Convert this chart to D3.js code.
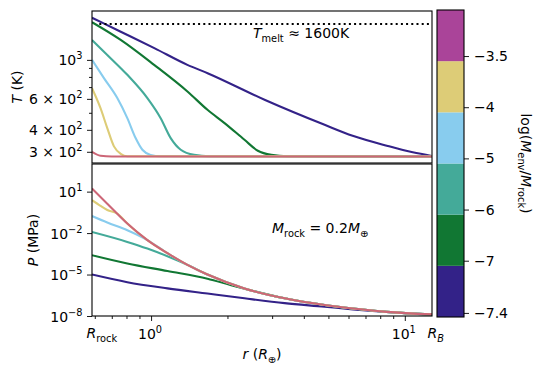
<!DOCTYPE html>
<html>
<head>
<meta charset="utf-8">
<script src="https://cdn.jsdelivr.net/npm/d3@7"></script>
<style>
  body { margin: 0; background: #fff; }
  text { font-family: "DejaVu Sans", sans-serif; }
</style>
</head>
<body>
<div id="chart"></div>
<script>
// radii in R_earth, temperature in K, pressure in MPa
const R_ROCK = 0.585
const R_B = 12.8
const T_MELT = 1600
const tempDomain = [259, 1897]
const presDomain = [1e-8, 1e3]

// colorbar: log(M_env/M_rock), bottom -> top
const envLabels = ['\u22127.4', '\u22127', '\u22126', '\u22125', '\u22124', '\u22123.5']
const envTickPos = [0.08, 1.1, 2.1, 3.1, 4.1, 5.1]
const barColors = ['#332288', '#117733', '#44AA99', '#88CCEE', '#DDCC77', '#AA4499']
const lineColors = ['#332288', '#117733', '#44AA99', '#88CCEE', '#DDCC77', '#CC6677']

// temperature profiles
const rT74 = [0.585, 0.756, 1.03, 1.39, 1.67, 2.8, 4.83, 6.23, 8.49, 10.75, 12.8]
const T74  = [1737, 1450, 1166, 937, 840, 593, 427, 370, 325, 298, 284]
const rT7  = [0.585, 0.759, 1.028, 1.391, 1.668, 1.948, 2.334, 2.635, 2.978, 3.45, 12.8]
const T7   = [1638, 1299, 937, 661, 520, 437, 351, 304, 288, 283, 282]
const rT6  = [0.585, 0.672, 0.806, 0.967, 1.091, 1.195, 1.309, 1.478, 1.70, 12.8]
const T6   = [1299, 1067, 822, 606, 466, 359, 308, 288, 283, 282]
const rT5  = [0.585, 0.652, 0.736, 0.806, 0.869, 0.924, 0.996, 1.09, 12.8]
const T5   = [1000, 787, 606, 466, 359, 308, 288, 283, 282]
const rT4  = [0.585, 0.632, 0.672, 0.714, 0.759, 0.806, 12.8]
const T4   = [690, 531, 409, 322, 292, 283, 282]
const rT35 = [0.585, 0.632, 0.70, 12.8]
const T35  = [300, 285, 282, 282]

// pressure profiles
const rP74 = [0.585, 0.806, 1.16, 1.668, 2.334, 3.36, 4.83, 6.25, 8.48, 12.8]
const P74  = [1e-5, 2.8e-6, 1e-6, 4.2e-7, 1.9e-7, 8.5e-8, 4.7e-8, 3.0e-8, 1.95e-8, 1.26e-8]
const rP7  = [0.585, 0.806, 1.16, 1.668, 2.069, 2.334, 3.36, 4.83, 6.25, 8.48, 12.8]
const P7   = [2.5e-4, 6.3e-5, 1.8e-5, 5e-6, 1.7e-6, 9.5e-7, 1.9e-7, 6.2e-8, 3.5e-8, 2.0e-8, 1.3e-8]
const rP6  = [0.585, 0.806, 0.967, 1.16, 1.391, 1.668, 2.334, 3.36, 4.83, 6.25, 8.48, 12.8]
const P6   = [1.2e-2, 2.3e-3, 7.6e-4, 2.1e-4, 5.0e-5, 1e-5, 9.8e-7, 1.9e-7, 6.2e-8, 3.5e-8, 2.0e-8, 1.3e-8]
const rP5  = [0.585, 0.672, 0.806, 0.967, 1.16, 1.391, 1.668, 2.334, 3.36, 4.83, 6.25, 8.48, 12.8]
const P5   = [1.7e-1, 5.8e-2, 1.6e-2, 3.1e-3, 3.5e-4, 5.0e-5, 1e-5, 9.8e-7, 1.9e-7, 6.2e-8, 3.5e-8, 2.0e-8, 1.3e-8]
const rP4  = [0.585, 0.632, 0.672, 0.74, 0.806, 0.967, 1.16, 1.391, 1.668, 2.334, 3.36, 4.83, 6.25, 8.48, 12.8]
const P4   = [2.4, 0.93, 0.47, 0.24, 4.9e-2, 3.1e-3, 3.5e-4, 5.0e-5, 1e-5, 9.8e-7, 1.9e-7, 6.2e-8, 3.5e-8, 2.0e-8, 1.3e-8]
const rP35 = [0.585, 0.672, 0.806, 0.967, 1.16, 1.391, 1.668, 2.334, 3.36, 4.83, 6.25, 8.48, 12.8]
const P35  = [16.6, 1.35, 4.9e-2, 3.1e-3, 3.5e-4, 5.0e-5, 1e-5, 9.8e-7, 1.9e-7, 6.2e-8, 3.5e-8, 2.0e-8, 1.3e-8]

const tempSeries = [[rT74, T74], [rT7, T7], [rT6, T6], [rT5, T5], [rT4, T4], [rT35, T35]]
const presSeries = [[rP74, P74], [rP7, P7], [rP6, P6], [rP5, P5], [rP4, P4], [rP35, P35]]

const xMajor = [1, 10]
const xMinor = [0.6, 0.7, 0.8, 0.9, 2, 3, 4, 5, 6, 7, 8, 9]
const tMajor = [300, 400, 600, 1000]
const tMinor = [500, 700, 800, 900]
const pMajor = [1e1, 1e-2, 1e-5, 1e-8]

const W = 543, H = 374
const PLOT = { LEFT: 92, RIGHT: 432 }
const TOPP = { TOP: 11, BOTTOM: 163 }
const BOTP = { TOP: 164, BOTTOM: 316 }
const CBAR = { LEFT: 437, RIGHT: 464, TOP: 10, BOTTOM: 317 }
const FS = 14

const svg = d3.select('#chart').append('svg')
    .attr('width', W)
    .attr('height', H)

const x = d3.scaleLog().domain([R_ROCK, R_B]).range([PLOT.LEFT, PLOT.RIGHT])
const yT = d3.scaleLog().domain(tempDomain).range([TOPP.BOTTOM, TOPP.TOP])
const yP = d3.scaleLog().domain(presDomain).range([BOTP.BOTTOM, BOTP.TOP])

// text with italic / sub / sup pieces, like mathtext
function mathText(sel, parts) {
    let shift = 0
    parts.forEach(([t, kind]) => {
        const ts = sel.append('tspan').text(t)
        let target = 0
        if (kind.includes('sub')) target = 3.5
        if (kind.includes('sup')) target = -6
        ts.attr('dy', target - shift)
        shift = target
        if (kind.includes('sub') || kind.includes('sup')) ts.attr('font-size', FS * 0.7)
        if (kind.includes('i')) ts.attr('font-style', 'italic')
    })
    return sel
}

function styleAxis(g) {
    g.select('.domain').remove()
    g.selectAll('.tick line').attr('stroke', '#000').attr('stroke-width', 0.9)
    g.selectAll('.tick text').attr('font-size', FS).attr('fill', '#000')
}

// clip paths for the two panels
const defs = svg.append('defs')
defs.append('clipPath').attr('id', 'clipT').append('rect')
    .attr('x', PLOT.LEFT).attr('y', TOPP.TOP)
    .attr('width', PLOT.RIGHT - PLOT.LEFT).attr('height', TOPP.BOTTOM - TOPP.TOP)
defs.append('clipPath').attr('id', 'clipP').append('rect')
    .attr('x', PLOT.LEFT).attr('y', BOTP.TOP)
    .attr('width', PLOT.RIGHT - PLOT.LEFT).attr('height', BOTP.BOTTOM - BOTP.TOP)

// ---- top panel: temperature ----
const lineT = d3.line().x(d => x(d[0])).y(d => yT(d[1])).curve(d3.curveMonotoneX)
svg.append('g').attr('clip-path', 'url(#clipT)')
    .selectAll('path')
    .data(tempSeries)
    .enter().append('path')
    .attr('d', d => lineT(d3.zip(d[0], d[1])))
    .attr('fill', 'none')
    .attr('stroke', (d, i) => lineColors[i])
    .attr('stroke-width', 2.1)

svg.append('line')
    .attr('x1', x(0.625)).attr('x2', x(R_B))
    .attr('y1', yT(T_MELT)).attr('y2', yT(T_MELT))
    .attr('stroke', '#000')
    .attr('stroke-width', 2)
    .attr('stroke-dasharray', '2,3.2')

mathText(svg.append('text').attr('x', 253).attr('y', 38).attr('font-size', FS),
    [['T', 'i'], ['melt', 'sub'], [' \u2248 1600K', '']])

const tAxis = svg.append('g')
    .attr('transform', `translate(${PLOT.LEFT},0)`)
    .call(d3.axisLeft(yT).tickValues(tMajor).tickSize(5).tickPadding(5).tickFormat(''))
styleAxis(tAxis)
const tAxisMinor = svg.append('g')
    .attr('transform', `translate(${PLOT.LEFT},0)`)
    .call(d3.axisLeft(yT).tickValues(tMinor).tickSize(3).tickFormat(''))
styleAxis(tAxisMinor)

const tLabels = [
    [['10', ''], ['3', 'sup']],
    [['6 \u00d7 10', ''], ['2', 'sup']],
    [['4 \u00d7 10', ''], ['2', 'sup']],
    [['3 \u00d7 10', ''], ['2', 'sup']]
]
;[1000, 600, 400, 300].forEach((v, i) => {
    mathText(svg.append('text')
        .attr('x', PLOT.LEFT - 9.5)
        .attr('y', yT(v) + 5.5)
        .attr('text-anchor', 'end')
        .attr('font-size', FS), tLabels[i])
})

mathText(svg.append('text')
    .attr('transform', `translate(22,${(TOPP.TOP + TOPP.BOTTOM) / 2}) rotate(-90)`)
    .attr('text-anchor', 'middle')
    .attr('font-size', FS), [['T', 'i'], [' (K)', '']])

// ---- bottom panel: pressure ----
const lineP = d3.line().x(d => x(d[0])).y(d => yP(d[1])).curve(d3.curveMonotoneX)
svg.append('g').attr('clip-path', 'url(#clipP)')
    .selectAll('path')
    .data(presSeries)
    .enter().append('path')
    .attr('d', d => lineP(d3.zip(d[0], d[1])))
    .attr('fill', 'none')
    .attr('stroke', (d, i) => lineColors[i])
    .attr('stroke-width', 2.1)

mathText(svg.append('text').attr('x', 272).attr('y', 233).attr('font-size', FS),
    [['M', 'i'], ['rock', 'sub'], [' = 0.2', ''], ['M', 'i'], ['\u2295', 'sub']])

const pAxis = svg.append('g')
    .attr('transform', `translate(${PLOT.LEFT},0)`)
    .call(d3.axisLeft(yP).tickValues(pMajor).tickSize(5).tickFormat(''))
styleAxis(pAxis)

const pLabels = ['1', '\u22122', '\u22125', '\u22128']
pMajor.forEach((v, i) => {
    mathText(svg.append('text')
        .attr('x', PLOT.LEFT - 9.5)
        .attr('y', yP(v) + 5.5)
        .attr('text-anchor', 'end')
        .attr('font-size', FS), [['10', ''], [pLabels[i], 'sup']])
})

mathText(svg.append('text')
    .attr('transform', `translate(37.5,${(BOTP.TOP + BOTP.BOTTOM) / 2}) rotate(-90)`)
    .attr('text-anchor', 'middle')
    .attr('font-size', FS), [['P', 'i'], [' (MPa)', '']])

// x axis
const xAxis = svg.append('g')
    .attr('transform', `translate(0,${BOTP.BOTTOM})`)
    .call(d3.axisBottom(x).tickValues(xMajor).tickSize(5).tickFormat(''))
styleAxis(xAxis)
const xAxisMinor = svg.append('g')
    .attr('transform', `translate(0,${BOTP.BOTTOM})`)
    .call(d3.axisBottom(x).tickValues(xMinor).tickSize(3).tickFormat(''))
styleAxis(xAxisMinor)

const xLabY = BOTP.BOTTOM + 23
mathText(svg.append('text').attr('x', x(1) - 1).attr('y', xLabY)
    .attr('text-anchor', 'middle').attr('font-size', FS), [['10', ''], ['0', 'sup']])
mathText(svg.append('text').attr('x', x(10) - 1).attr('y', xLabY)
    .attr('text-anchor', 'middle').attr('font-size', FS), [['10', ''], ['1', 'sup']])
mathText(svg.append('text').attr('x', x(R_ROCK) - 5.5).attr('y', xLabY - 1)
    .attr('font-size', FS), [['R', 'i'], ['rock', 'sub']])
mathText(svg.append('text').attr('x', x(R_B) - 4.5).attr('y', xLabY - 1)
    .attr('font-size', FS), [['R', 'i'], ['B', 'isub']])

mathText(svg.append('text')
    .attr('x', (PLOT.LEFT + PLOT.RIGHT) / 2)
    .attr('y', 359)
    .attr('text-anchor', 'middle')
    .attr('font-size', FS), [['r', 'i'], [' (', ''], ['R', 'i'], ['\u2295', 'sub'], [')', '']])

// spines
;[TOPP, BOTP].forEach(p => {
    svg.append('rect')
        .attr('x', PLOT.LEFT).attr('y', p.TOP)
        .attr('width', PLOT.RIGHT - PLOT.LEFT).attr('height', p.BOTTOM - p.TOP)
        .attr('fill', 'none')
        .attr('stroke', '#000')
        .attr('stroke-width', 1.1)
})

// ---- colorbar ----
const cb = d3.scaleLinear().domain([0, barColors.length]).range([CBAR.BOTTOM, CBAR.TOP])
svg.append('g').selectAll('rect')
    .data(barColors)
    .enter().append('rect')
    .attr('x', CBAR.LEFT)
    .attr('y', (d, i) => cb(i + 1))
    .attr('width', CBAR.RIGHT - CBAR.LEFT)
    .attr('height', (d, i) => cb(i) - cb(i + 1))
    .attr('fill', d => d)
svg.append('rect')
    .attr('x', CBAR.LEFT).attr('y', CBAR.TOP)
    .attr('width', CBAR.RIGHT - CBAR.LEFT).attr('height', CBAR.BOTTOM - CBAR.TOP)
    .attr('fill', 'none')
    .attr('stroke', '#000')
    .attr('stroke-width', 1.1)

const cbAxis = svg.append('g')
    .attr('transform', `translate(${CBAR.RIGHT},0)`)
    .call(d3.axisRight(cb).tickValues(envTickPos).tickSize(5).tickPadding(5)
        .tickFormat((d, i) => envLabels[i]))
styleAxis(cbAxis)
cbAxis.selectAll('.tick text').attr('font-family', '"DejaVu Sans", sans-serif')

mathText(svg.append('text')
    .attr('transform', `translate(521,${(CBAR.TOP + CBAR.BOTTOM) / 2}) rotate(90)`)
    .attr('text-anchor', 'middle')
    .attr('font-size', FS),
    [['log(', ''], ['M', 'i'], ['env', 'sub'], ['/', ''], ['M', 'i'], ['rock', 'sub'], [')', '']])
</script>
</body>
</html>
